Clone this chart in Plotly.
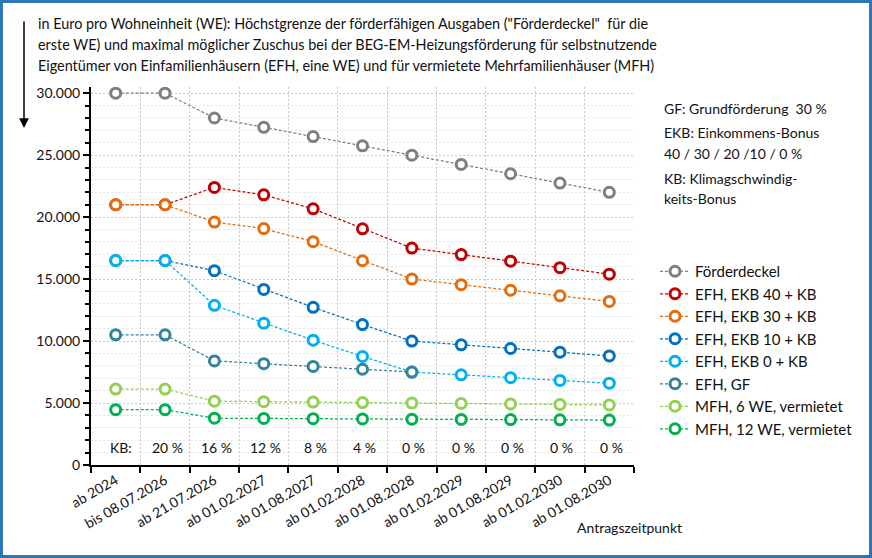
import plotly.graph_objects as go

categories = ["ab 2024", "bis 08.07.2026", "ab 21.07.2026", "ab 01.02.2027", "ab 01.08.2027",
              "ab 01.02.2028", "ab 01.08.2028", "ab 01.02.2029", "ab 01.08.2029", "ab 01.02.2030",
              "ab 01.08.2030"]

foerderdeckel = [30000, 30000, 28000, 27250, 26500, 25750, 25000, 24250, 23500, 22750, 22000]
efh_ekb40 = [21000, 21000, 22400, 21800, 20670, 19055, 17500, 16975, 16450, 15925, 15400]
efh_ekb30 = [21000, 21000, 19600, 19075, 18020, 16480, 15000, 14550, 14100, 13650, 13200]
efh_ekb10 = [16500, 16500, 15680, 14170, 12720, 11330, 10000, 9700, 9400, 9100, 8800]
efh_ekb0 = [16500, 16500, 12880, 11445, 10070, 8755, 7500, 7275, 7050, 6825, 6600]
efh_gf = [10500, 10500, 8400, 8175, 7950, 7725, 7500]
mfh_6 = [6125, 6125, 5150, 5112, 5075, 5038, 5000, 4962, 4925, 4888, 4850]
mfh_12 = [4462, 4462, 3775, 3756, 3738, 3719, 3700, 3681, 3662, 3644, 3625]

series_names = ["Förderdeckel", "EFH, EKB 40 + KB", "EFH, EKB 30 + KB", "EFH, EKB 10 + KB",
                "EFH, EKB 0 + KB", "EFH, GF", "MFH, 6 WE, vermietet", "MFH, 12 WE, vermietet"]
series_values = [foerderdeckel, efh_ekb40, efh_ekb30, efh_ekb10, efh_ekb0, efh_gf, mfh_6, mfh_12]
series_colors = ["#7f7f7f", "#c00000", "#e46c0a", "#0070c0", "#00b0f0", "#31849b", "#92d050", "#00b050"]

kb_labels = ["KB:", "20 %", "16 %", "12 %", "8 %", "4 %", "0 %", "0 %", "0 %", "0 %", "0 %"]
kb_label_y = 1400

title_lines = [
    'in Euro pro Wohneinheit (WE): Höchstgrenze der förderfähigen Ausgaben ("Förderdeckel"  für die',
    'erste WE) und maximal möglicher Zuschus bei der BEG-EM-Heizungsförderung für selbstnutzende',
    'Eigentümer von Einfamilienhäusern (EFH, eine WE) und für vermietete Mehrfamilienhäuser (MFH)',
]
side_lines = ["GF: Grundförderung  30 %", "EKB: Einkommens-Bonus", "40 / 30 / 20 /10 / 0 %",
              "KB: Klimagschwindig-", "keits-Bonus"]
x_title = "Antragszeitpunkt"

FONT = "Lato"
W, H = 872, 558
L, R, T, B = 91, 238, 87, 93
PW, PH = W - L - R, H - T - B


def px(x):
    return (x - L) / PW


def py(y):
    return (H - B - y) / PH


fig = go.Figure()
for name, vals, col in zip(series_names, series_values, series_colors):
    fig.add_trace(go.Scatter(
        x=categories[:len(vals)], y=vals, name=name, mode="lines+markers",
        line=dict(color=col, width=1.25, dash="3px,2px"),
        marker=dict(symbol="circle", size=10, color="white", line=dict(color=col, width=3)),
    ))

annotations = []
for ypx, txt in zip([24, 45, 66], title_lines):
    annotations.append(dict(xref="paper", yref="paper", x=px(36), y=py(ypx), text=txt,
                            showarrow=False, xanchor="left", yanchor="middle",
                            font=dict(family=FONT, size=14.4, color="#111")))
for ypx, txt in zip([108, 132, 153, 178, 198], side_lines):
    annotations.append(dict(xref="paper", yref="paper", x=px(662), y=py(ypx), text=txt,
                            showarrow=False, xanchor="left", yanchor="middle",
                            font=dict(family=FONT, size=14, color="#111")))
for i, (cat, lab) in enumerate(zip(categories, kb_labels)):
    annotations.append(dict(xref="x", yref="y", x=cat, y=kb_label_y, text=lab,
                            showarrow=False, xanchor="center", yanchor="middle",
                            xshift=5 if i == 0 else 2,
                            font=dict(family=FONT, size=14, color="#111")))
annotations.append(dict(xref="paper", yref="paper", x=px(629), y=py(527), text=x_title,
                        showarrow=False, xanchor="center", yanchor="middle",
                        font=dict(family=FONT, size=14, color="#111")))
# downward arrow
annotations.append(dict(xref="paper", yref="paper", x=px(24), y=py(128), text="",
                        showarrow=True, ax=0, ay=-108, arrowhead=2, arrowsize=1.3,
                        arrowwidth=1.5, arrowcolor="black"))

fig.update_layout(
    width=W, height=H,
    margin=dict(l=L, r=R, t=T, b=B),
    paper_bgcolor="white", plot_bgcolor="white",
    separators=",.",
    font=dict(family=FONT, size=14, color="#111"),
    showlegend=True,
    legend=dict(x=px(655), y=py(255), xanchor="left", yanchor="top",
                font=dict(family=FONT, size=15, color="#111"),
                bgcolor="rgba(0,0,0,0)", itemwidth=30),
    annotations=annotations,
    shapes=[dict(type="rect", xref="paper", yref="paper",
                 x0=px(1.5), x1=px(870.5), y0=py(556.5), y1=py(1.5),
                 line=dict(color="#2e75b6", width=3), fillcolor="rgba(0,0,0,0)", layer="above")],
)

fig.update_xaxes(
    type="category", tickson="boundaries", tickangle=-30,
    showline=True, linecolor="black", linewidth=2,
    ticks="outside", ticklen=6, tickwidth=1.5, tickcolor="black",
    showgrid=True, gridcolor="#c8c8c8", gridwidth=1, griddash="2px,2px",
    tickfont=dict(family=FONT, size=14, color="#111"),
    range=[-0.5, len(categories) - 0.5],
)
fig.update_yaxes(
    range=[0, 30500], dtick=5000, tick0=0, tickformat=",.0f",
    showline=True, linecolor="black", linewidth=2,
    ticks="outside", ticklen=6, tickwidth=1.5, tickcolor="black",
    showgrid=True, gridcolor="#c8c8c8", gridwidth=1, griddash="2px,2px",
    zeroline=False,
    minor=dict(dtick=1000, ticks="outside", ticklen=4, tickcolor="black", tickwidth=1.5,
               showgrid=True, gridcolor="#e4e4e4", gridwidth=1, griddash="2px,2px"),
    tickfont=dict(family=FONT, size=14, color="#111"),
)

fig.write_html("out.html")
